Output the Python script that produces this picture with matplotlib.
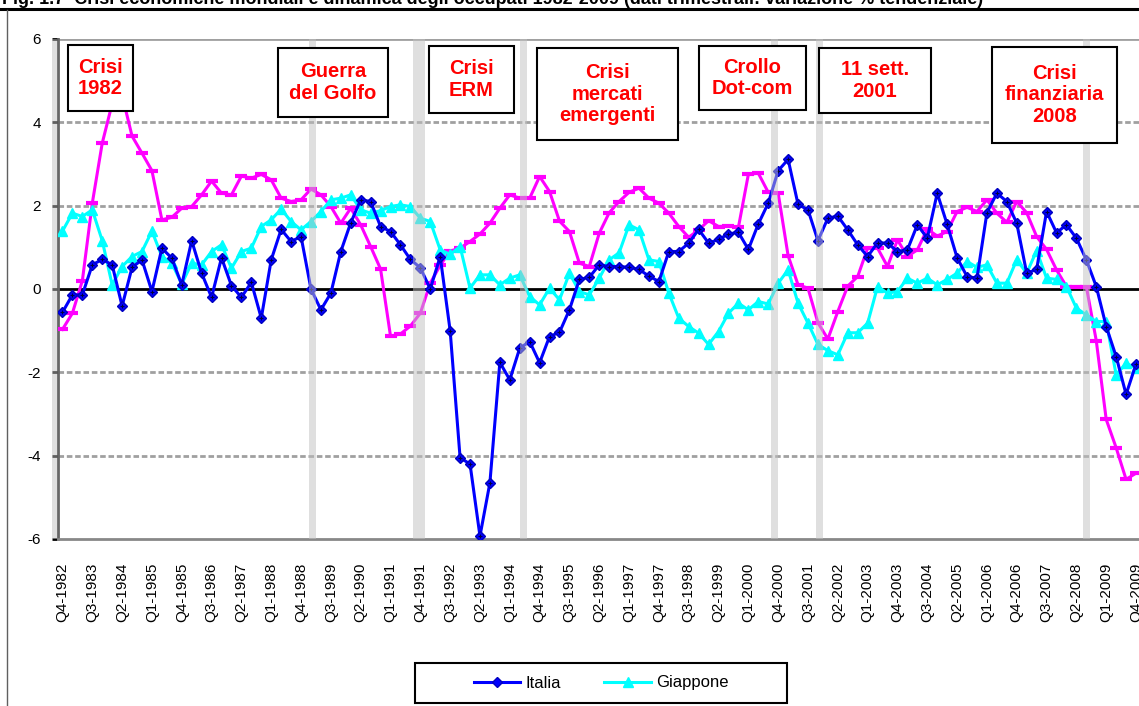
import matplotlib
matplotlib.use("Agg")
import matplotlib.pyplot as plt
from matplotlib import font_manager
from matplotlib.lines import Line2D
from matplotlib.patches import Rectangle

# variazione % tendenziale degli occupati, trimestrale da Q4-1982 a Q4-2009
italia = [-0.56, -0.14, -0.14, 0.58, 0.71, 0.58, -0.41, 0.52, 0.70, -0.06,
          0.98, 0.74, 0.10, 1.16, 0.38, -0.20, 0.75, 0.08, -0.20, 0.16,
          -0.70, 0.70, 1.43, 1.14, 1.26, 0.00, -0.50, -0.10, 0.90, 1.59,
          2.14, 2.10, 1.50, 1.38, 1.06, 0.71, 0.51, 0.00, 0.78, -1.00,
          -4.05, -4.20, -5.93, -4.65, -1.76, -2.18, -1.42, -1.26, -1.77, -1.14,
          -1.04, -0.50, 0.23, 0.28, 0.58, 0.54, 0.54, 0.52, 0.47, 0.31,
          0.18, 0.90, 0.90, 1.10, 1.43, 1.10, 1.19, 1.32, 1.36, 0.95,
          1.56, 2.06, 2.84, 3.11, 2.03, 1.90, 1.16, 1.70, 1.75, 1.42,
          1.06, 0.78, 1.11, 1.10, 0.90, 0.94, 1.54, 1.22, 2.30, 1.55,
          0.75, 0.30, 0.26, 1.83, 2.30, 2.10, 1.58, 0.38, 0.47, 1.86,
          1.35, 1.54, 1.22, 0.70, 0.06, -0.90, -1.62, -2.53, -1.80]

giappone = [1.39, 1.82, 1.74, 1.90, 1.16, 0.10, 0.54, 0.78, 0.90, 1.39,
            0.78, 0.62, 0.12, 0.62, 0.58, 0.90, 1.06, 0.50, 0.90, 0.98,
            1.50, 1.66, 1.92, 1.62, 1.42, 1.62, 1.86, 2.14, 2.18, 2.26,
            1.90, 1.82, 1.88, 1.98, 2.02, 1.98, 1.70, 1.62, 0.94, 0.83,
            1.02, 0.02, 0.34, 0.34, 0.10, 0.26, 0.34, -0.18, -0.38, 0.02,
            -0.26, 0.38, -0.06, -0.14, 0.26, 0.70, 0.87, 1.54, 1.42, 0.70,
            0.66, -0.10, -0.70, -0.90, -1.06, -1.33, -1.02, -0.58, -0.34, -0.50,
            -0.30, -0.36, 0.14, 0.46, -0.34, -0.82, -1.33, -1.48, -1.58, -1.05,
            -1.05, -0.82, 0.06, -0.10, -0.06, 0.26, 0.14, 0.26, 0.10, 0.23,
            0.38, 0.66, 0.52, 0.58, 0.14, 0.14, 0.70, 0.38, 0.92, 0.26,
            0.23, 0.06, -0.46, -0.62, -0.78, -0.78, -2.06, -1.78, -1.90]

# terza serie (senza voce in legenda)
usa = [-0.97, -0.58, 0.20, 2.06, 3.50, 4.45, 4.65, 3.67, 3.26, 2.84,
       1.66, 1.72, 1.94, 1.98, 2.26, 2.59, 2.30, 2.26, 2.71, 2.66,
       2.75, 2.62, 2.18, 2.10, 2.14, 2.40, 2.26, 1.98, 1.58, 1.94,
       1.54, 1.02, 0.48, -1.13, -1.08, -0.89, -0.58, 0.14, 0.57, 0.91,
       0.98, 1.14, 1.32, 1.58, 1.94, 2.26, 2.18, 2.18, 2.70, 2.34,
       1.63, 1.38, 0.62, 0.54, 1.34, 1.83, 2.10, 2.32, 2.42, 2.18,
       2.06, 1.82, 1.50, 1.24, 1.42, 1.64, 1.50, 1.51, 1.48, 2.75,
       2.78, 2.32, 2.30, 0.80, 0.10, 0.02, -0.81, -1.20, -0.54, 0.07,
       0.30, 0.98, 0.98, 0.54, 1.18, 0.78, 0.94, 1.44, 1.27, 1.38,
       1.86, 1.96, 1.86, 2.14, 1.82, 1.60, 2.10, 1.83, 1.26, 0.95,
       0.46, 0.06, 0.06, 0.06, -1.24, -3.13, -3.81, -4.57, -4.42]

# etichette trimestri
trimestri = []
for k in range(len(italia)):
    q = (3 + k) % 4 + 1
    anno = 1982 + (3 + k) // 4
    trimestri.append('Q%d-%d' % (q, anno))

# crisi: etichette e bande grigie (posizione in trimestri)
crisi = ['Crisi\n1982', 'Guerra\ndel Golfo', 'Crisi\nERM',
         'Crisi\nmercati\nemergenti', 'Crollo\nDot-com', '11 sett.\n2001',
         'Crisi\nfinanziaria\n2008']
bande = [-0.83, 25.17, 35.9, 46.37, 71.63, 76.17, 103.0]
larg_bande = [0.5, 0.67, 1.2, 0.67, 0.75, 0.72, 0.77]

# riquadri delle etichette (pixel: x0, x1, y0, y1)
box = [(68, 133, 45, 111), (278, 388, 48, 117), (429, 514, 46, 113),
       (537, 678, 48, 140), (699, 806, 46, 110), (819, 931, 48, 113),
       (992, 1117, 47, 143)]

titolo = ('Fig. 1.7  Crisi economiche mondiali e dinamica degli occupati 1982-2009 '
          '(dati trimestrali: variazione % tendenziale)')

nomi = {f.name for f in font_manager.fontManager.ttflist}
if 'Liberation Sans Narrow' in nomi:
    stretta = ['Liberation Sans Narrow']
    fs_tick, fs_leg = 13, 14
else:
    stretta = ['Liberation Sans']
    fs_tick, fs_leg = 11, 12
plt.rcParams['font.family'] = ['Liberation Sans', 'DejaVu Sans']
plt.rcParams['axes.unicode_minus'] = False

W, H = 1139, 706
fig = plt.figure(figsize=(W / 100, H / 100), dpi=100)


def fx(px):
    return px / W


def fy(py):
    return 1 - py / H


ax = fig.add_axes([fx(57.5), fy(539), 1083.5 / W, 500 / H])
x = list(range(len(italia)))

ax.plot(x, usa, color='#FF00FF', lw=2.2, marker='_', ms=9, mew=3, zorder=3)
l_gia, = ax.plot(x, giappone, color='#00FFFF', lw=2.2, marker='^', ms=7, zorder=4)
l_ita, = ax.plot(x, italia, color='#0000FF', lw=2.2, marker='D', ms=5.5,
                 mec='#0000C0', zorder=5)
ax.plot(x, italia, ls='none', marker='+', ms=2.5, mew=0.8, color='#000040', zorder=6)

for c, w in zip(bande, larg_bande):
    ax.axvspan(c - w / 2, c + w / 2, color='#C0C0C0', alpha=0.5, lw=0,
               zorder=7, clip_on=False)

for v in [-4, -2, 2, 4]:
    ax.axhline(v, color='#A0A0A0', lw=2, ls=(0, (2, 1)), zorder=1)
ax.axhline(6, color='#A0A0A0', lw=2, zorder=1)
ax.axhline(0, color='black', lw=2, zorder=2)

ax.set_xlim(-0.5, len(italia) - 0.5)
ax.set_ylim(-6, 6)
ax.spines['top'].set_visible(False)
ax.spines['right'].set_visible(False)
ax.spines['bottom'].set_color('#888888')
ax.spines['bottom'].set_linewidth(2)
ax.spines['left'].set_color('#666666')
ax.spines['left'].set_linewidth(2)

ax.set_yticks(range(-6, 7, 2))
ax.tick_params(axis='y', direction='out', length=4, width=2, color='black',
               labelsize=11, pad=8)
ax.set_xticks(x[::3])
ax.set_xticklabels(trimestri[::3], rotation=90, family=stretta, fontsize=fs_tick)
ax.tick_params(axis='x', length=0, pad=17)

# titolo (tagliato in alto) e cornici
fig.text(fx(2), fy(4), titolo, fontsize=13, weight='bold', va='baseline', ha='left')
fig.add_artist(Line2D([0, 1], [fy(9), fy(9)], color='black', lw=2.2))
fig.add_artist(Line2D([fx(6.5), fx(6.5)], [fy(10), 0], color='#606060', lw=1))

for testo, (x0, x1, y0, y1) in zip(crisi, box):
    fig.add_artist(Rectangle((fx(x0), fy(y1)), (x1 - x0) / W, (y1 - y0) / H,
                             transform=fig.transFigure, facecolor='white',
                             edgecolor='black', lw=1.5, zorder=10))
    fig.text(fx((x0 + x1) / 2), fy((y0 + y1) / 2), testo, ha='center', va='center',
             color='#FF0000', weight='bold', fontsize=14.5, linespacing=1.17,
             zorder=11)

leg = fig.legend([l_ita, l_gia], ['Italia', 'Giappone'], loc='center',
                 bbox_to_anchor=(fx(601), fy(683)), ncol=2, frameon=False,
                 handlelength=2.8, handletextpad=0.3, columnspacing=2.6,
                 prop={'family': stretta, 'size': fs_leg})
fig.add_artist(Rectangle((fx(415), fy(703)), 372 / W, 40 / H,
                         transform=fig.transFigure, facecolor='none',
                         edgecolor='black', lw=1.5, zorder=10))

fig.savefig('out.png', dpi=100)
